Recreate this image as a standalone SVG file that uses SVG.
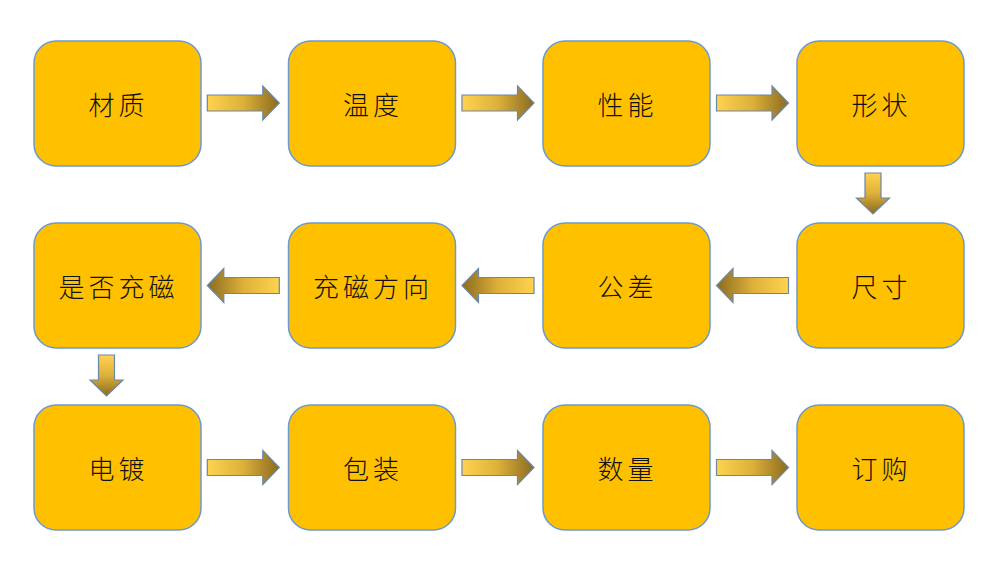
<svg xmlns="http://www.w3.org/2000/svg" width="997" height="571" viewBox="0 0 997 571">
<defs>
<linearGradient id="gh" x1="0" y1="0" x2="1" y2="0">
<stop offset="0" stop-color="#FFD34F"/>
<stop offset="0.5" stop-color="#DDB03A"/>
<stop offset="1" stop-color="#8A6B1F"/>
</linearGradient>
<linearGradient id="gv" x1="0" y1="0" x2="0" y2="1">
<stop offset="0" stop-color="#FFD34F"/>
<stop offset="0.5" stop-color="#DDB03A"/>
<stop offset="1" stop-color="#8A6B1F"/>
</linearGradient>
<path id="ah" d="M0,-8 L55.5,-8 L55.5,-17 L72,0 L55.5,17 L55.5,8 L0,8 Z"/>
<path id="av" d="M-8,0 L8,0 L8,25 L16.5,25 L0,41 L-16.5,25 L-8,25 Z"/>
</defs>
<style>
.n{fill:#FFC000;stroke:#6C9AD0;stroke-width:1.5}
.t{font-family:"Noto Sans CJK SC","Noto Sans CJK JP",sans-serif;font-size:26px;font-weight:300;letter-spacing:4px;fill:#111111;text-anchor:middle;dominant-baseline:central}
.h{fill:url(#gh);stroke:#6A86A8;stroke-width:1.2}
.v{fill:url(#gv);stroke:#6A86A8;stroke-width:1.2}
</style>
<rect width="997" height="571" fill="#ffffff"/>
<g id="n1"><rect class="n" x="34" y="41" width="167" height="125" rx="22"/><text class="t" x="118.5" y="103">材质</text></g>
<g id="n2"><rect class="n" x="288.5" y="41" width="167" height="125" rx="22"/><text class="t" x="373" y="103">温度</text></g>
<g id="n3"><rect class="n" x="543" y="41" width="167" height="125" rx="22"/><text class="t" x="627.5" y="103">性能</text></g>
<g id="n4"><rect class="n" x="797" y="41" width="167" height="125" rx="22"/><text class="t" x="881.5" y="103">形状</text></g>
<g id="n5"><rect class="n" x="797" y="223" width="167" height="125" rx="22"/><text class="t" x="881.5" y="285">尺寸</text></g>
<g id="n6"><rect class="n" x="543" y="223" width="167" height="125" rx="22"/><text class="t" x="627.5" y="285">公差</text></g>
<g id="n7"><rect class="n" x="288.5" y="223" width="167" height="125" rx="22"/><text class="t" x="373" y="285">充磁方向</text></g>
<g id="n8"><rect class="n" x="34" y="223" width="167" height="125" rx="22"/><text class="t" x="118.5" y="285">是否充磁</text></g>
<g id="n9"><rect class="n" x="34" y="405" width="167" height="125" rx="22"/><text class="t" x="118.5" y="467">电镀</text></g>
<g id="n10"><rect class="n" x="288.5" y="405" width="167" height="125" rx="22"/><text class="t" x="373" y="467">包装</text></g>
<g id="n11"><rect class="n" x="543" y="405" width="167" height="125" rx="22"/><text class="t" x="627.5" y="467">数量</text></g>
<g id="n12"><rect class="n" x="797" y="405" width="167" height="125" rx="22"/><text class="t" x="881.5" y="467">订购</text></g>
<g id="connectors">
<use href="#ah" class="h" transform="translate(207.3,103)"/>
<use href="#ah" class="h" transform="translate(462,103)"/>
<use href="#ah" class="h" transform="translate(716.5,103)"/>
<use href="#av" class="v" transform="translate(873,173)"/>
<use href="#ah" class="h" transform="translate(788.5,285.5) scale(-1,1)"/>
<use href="#ah" class="h" transform="translate(534,285.5) scale(-1,1)"/>
<use href="#ah" class="h" transform="translate(279.3,285.5) scale(-1,1)"/>
<use href="#av" class="v" transform="translate(106.5,355)"/>
<use href="#ah" class="h" transform="translate(207.3,467.5)"/>
<use href="#ah" class="h" transform="translate(462,467.5)"/>
<use href="#ah" class="h" transform="translate(716.5,467.5)"/>
</g>
</svg>
